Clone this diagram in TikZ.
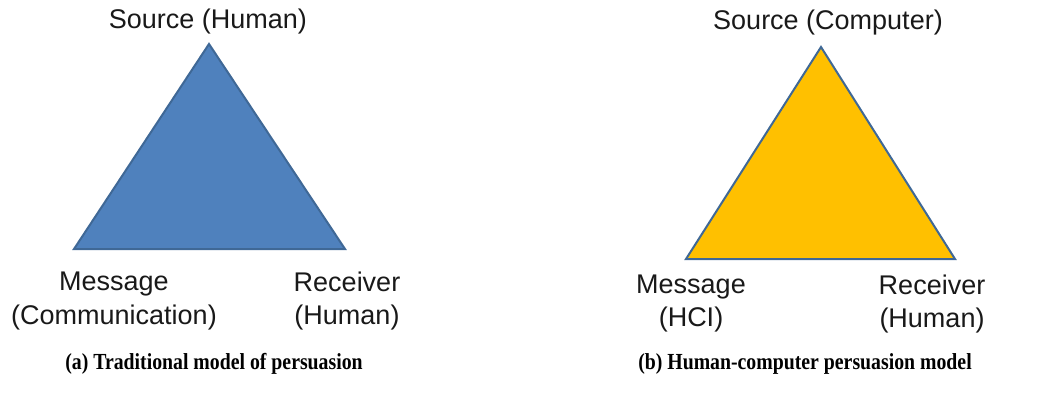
\documentclass[tikz,border=0pt]{standalone}
\usepackage{fontspec}
\setmainfont{Liberation Sans}
\newfontfamily\capfont{Liberation Serif}
\definecolor{triblue}{HTML}{4F81BD}
\definecolor{triedge}{HTML}{3F6896}
\definecolor{trigold}{HTML}{FFC000}
\begin{document}
\begin{tikzpicture}[x=1pt,y=-1pt,
  label/.style={font=\fontsize{27}{33}\selectfont, align=center, inner sep=0pt, text=black!90},
  caption/.style={font=\capfont\bfseries\fontsize{23}{26}\selectfont, inner sep=0pt, anchor=base, xscale=0.86},
  tri/.style={draw=triedge, line width=2pt, line join=miter}]
\useasboundingbox (0,0) rectangle (1046,394);

% left triangle: traditional model
\coordinate (a1) at (209,44);
\coordinate (a2) at (74,249);
\coordinate (a3) at (345,249);
\filldraw[tri, fill=triblue] (a1) -- (a2) -- (a3) -- cycle;

\node[label] (srcA) at (208,22) {Source (Human)};
\node[label] (msgA) at (114,301) {Message\\(Communication)};
\node[label] (rcvA) at (347,301) {Receiver\\(Human)};

% right triangle: human-computer model
\coordinate (b1) at (821,47);
\coordinate (b2) at (686,259);
\coordinate (b3) at (955,259);
\filldraw[tri, fill=trigold] (b1) -- (b2) -- (b3) -- cycle;

\node[label] (srcB) at (828,23) {Source (Computer)};
\node[label] (msgB) at (691,304) {Message\\(HCI)};
\node[label] (rcvB) at (932,304) {Receiver\\(Human)};

% sub-figure captions
\node[caption] (capA) at (214,369) {(a) Traditional model of persuasion};
\node[caption] (capB) at (805,369) {(b) Human-computer persuasion model};
\end{tikzpicture}
\end{document}
